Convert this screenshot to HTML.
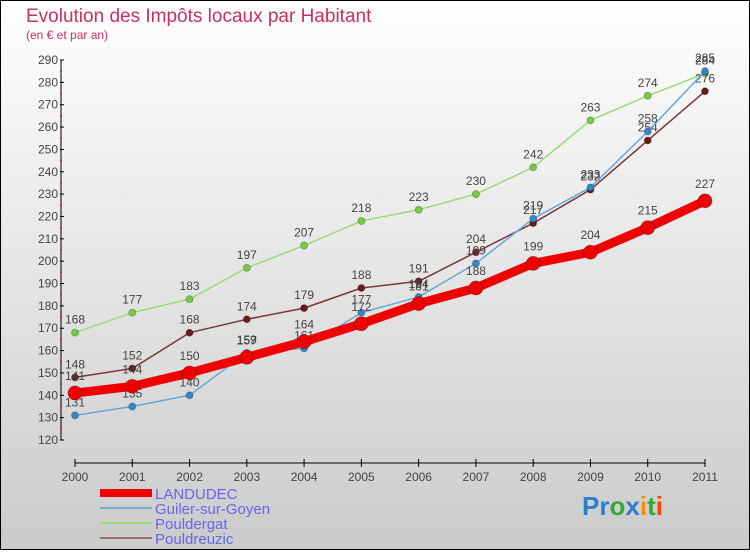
<!DOCTYPE html>
<html><head><meta charset="utf-8"><style>
html,body{margin:0;padding:0}
body{width:750px;height:550px;overflow:hidden;font-family:"Liberation Sans",sans-serif}
</style></head><body>
<svg id="chart" width="750" height="550" xmlns="http://www.w3.org/2000/svg">
<defs><linearGradient id="bg" x1="0" y1="0" x2="0" y2="1"><stop offset="0" stop-color="#ffffff"/><stop offset="1" stop-color="#cbcbcb"/></linearGradient></defs>
<rect x="0.5" y="0.5" width="749" height="549" fill="url(#bg)" stroke="#000" stroke-width="1"/>
<text x="26" y="22" font-size="19" fill="#c8305f">Evolution des Impôts locaux par Habitant</text>
<text x="26" y="39" font-size="12" fill="#c8305f">(en € et par an)</text>
<g id="axes"></g><g id="series"></g>
<g>
<rect x="100" y="489" width="52" height="8" fill="#ee0000"/>
<text x="155" y="499" font-size="15" fill="#6666ee">LANDUDEC</text>
<line x1="100" x2="152" y1="508" y2="508" stroke="#7aadd6" stroke-width="2"/>
<text x="155" y="514" font-size="15" fill="#6666ee">Guiler-sur-Goyen</text>
<line x1="100" x2="152" y1="523" y2="523" stroke="#99dd77" stroke-width="2"/>
<text x="155" y="529" font-size="15" fill="#6666ee">Pouldergat</text>
<line x1="100" x2="152" y1="538" y2="538" stroke="#997070" stroke-width="2"/>
<text x="155" y="544" font-size="15" fill="#6666ee">Pouldreuzic</text>
</g>
<text x="582" y="515" font-size="26" font-weight="bold"><tspan fill="#2a7fd0">Pr</tspan><tspan fill="#33aa33">o</tspan><tspan fill="#2a7fd0">x</tspan><tspan fill="#ff8800">i</tspan><tspan fill="#33aa33">t</tspan><tspan fill="#ff4400">i</tspan></text>
</svg>
<script>
const years=[2000,2001,2002,2003,2004,2005,2006,2007,2008,2009,2010,2011];
const landudec=[141,144,150,157,164,172,181,188,199,204,215,227];
const guiler=[131,135,140,159,161,177,184,199,219,233,258,285];
const pouldergat=[168,177,183,197,207,218,223,230,242,263,274,284];
const pouldreuzic=[148,152,168,174,179,188,191,204,217,232,254,276];
const yTicks=[120,130,140,150,160,170,180,190,200,210,220,230,240,250,260,270,280,290];
const NS="http://www.w3.org/2000/svg";
const yMin=120,yMax=290,yTop=60,yBot=440,x0=75,x1=705,axisX=61,axisY=463;
const xs=i=>x0+(x1-x0)*i/(years.length-1);
const ys=v=>yBot-(v-yMin)*(yBot-yTop)/(yMax-yMin);
function mk(tag,attrs,parent){const e=document.createElementNS(NS,tag);for(const k in attrs)e.setAttribute(k,attrs[k]);parent.appendChild(e);return e;}
const ax=document.getElementById('axes');
let l=mk('line',{x1:axisX,x2:axisX,y1:yTop,y2:yBot,stroke:'#000'},ax);


yTicks.forEach((v,i)=>{
 const y=ys(v);
 mk('line',{x1:axisX-1,x2:axisX+3,y1:y,y2:y,stroke:'#000'},ax);
 if(i<yTicks.length-1) mk('line',{x1:axisX-1,x2:axisX+1,y1:ys(v+5),y2:ys(v+5),stroke:'#e00'},ax);
 const t=mk('text',{x:axisX-3,y:y+4,'font-size':12,'text-anchor':'end',fill:'#444'},ax);
 
 
 t.textContent=v;
});
l=mk('line',{x1:x0,x2:x1,y1:axisY,y2:axisY,stroke:'#000'},ax);


years.forEach((yr,i)=>{
 mk('line',{x1:xs(i),x2:xs(i),y1:axisY-4,y2:axisY+4,stroke:'#000'},ax);
 const t=mk('text',{x:xs(i),y:axisY+18,'font-size':12,'text-anchor':'middle',fill:'#444'},ax);
 
 
 t.textContent=yr;
});
const sg=document.getElementById('series');
function series(vals,name,color,dot,width,r){
 const g=mk('g',{},sg);
 
 
 mk('polyline',{points:vals.map((v,i)=>xs(i)+','+ys(v)).join(' '),fill:'none',stroke:color,'stroke-width':width,'stroke-linejoin':'round'},g);
 vals.forEach((v,i)=>{
  const c=mk('circle',{cx:xs(i),cy:ys(v),r:r,fill:dot,stroke:'rgba(0,0,0,0.25)'},g);
  
  
  const t=mk('text',{x:xs(i),y:ys(v)-9-(r>5?4:0),'font-size':12,'text-anchor':'middle',fill:'#444'},g);
  
  
  t.textContent=v;
 });
}
series(pouldergat,'pouldergat','#99dd77','#77cc44',1.5,3.5);
series(pouldreuzic,'pouldreuzic','#7a3535','#6b1a1a',1.5,3.5);
series(guiler,'guiler','#6aa8d8','#3388cc',1.5,3.5);
series(landudec,'landudec','#ee0000','#ee0000',9,7);
</script>
</body></html>
